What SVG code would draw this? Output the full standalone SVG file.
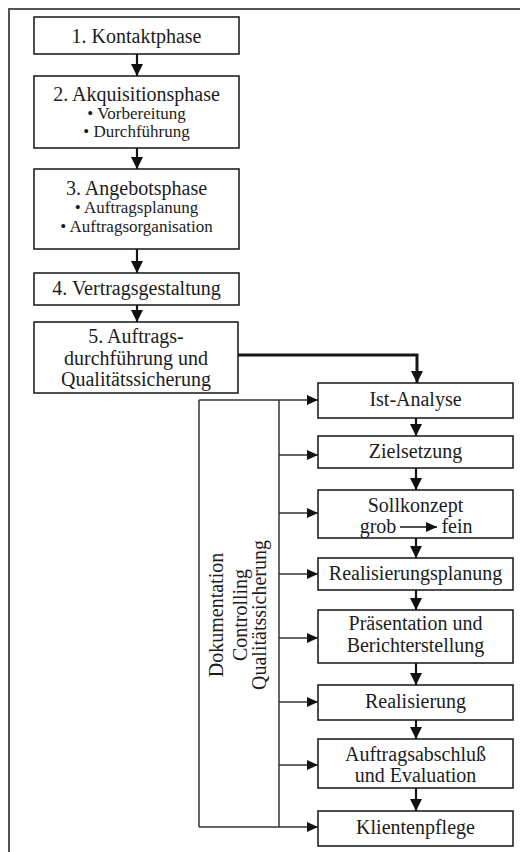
<svg xmlns="http://www.w3.org/2000/svg" width="520" height="852" viewBox="0 0 520 852">
  <defs>
    <style>
      .box { fill: #fff; stroke: #222; stroke-width: 1.6; }
      .t { font-family: 'Liberation Serif', Tinos, 'Times New Roman', Times, 'DejaVu Serif', serif; font-size: 20px; fill: #1c1c1c; text-anchor: middle; }
      .b { font-size: 17px; }
      .flow { fill: none; stroke: #151515; stroke-width: 2.2; }
      .thick { fill: none; stroke: #151515; stroke-width: 3; }
      .thin { fill: none; stroke: #333; stroke-width: 1.5; }
      .frame { fill: none; stroke: #555; stroke-width: 2; }
    </style>
    <marker id="ah" markerUnits="userSpaceOnUse" markerWidth="12" markerHeight="12" refX="12" refY="6" orient="auto">
      <path d="M0,0 L12,6 L0,12 z" fill="#111"/>
    </marker>
    <marker id="as" markerUnits="userSpaceOnUse" markerWidth="11" markerHeight="10" refX="11" refY="5" orient="auto">
      <path d="M0,0 L11,5 L0,10 z" fill="#111"/>
    </marker>
  </defs>

  <rect width="520" height="852" fill="#fff"/>
  <!-- outer frame (top and left edges) -->
  <path class="frame" d="M9,852 V9 H520"/>

  <g font-family="Liberation Serif, Times New Roman, serif">
  <!-- main phases -->
  <g id="kontaktphase">
    <rect class="box" x="34" y="17" width="205" height="37"/>
    <text class="t" x="136.5" y="43">1. Kontaktphase</text>
  </g>
  <g id="akquisitionsphase">
    <rect class="box" x="34" y="76" width="205" height="72"/>
    <text class="t" x="136.5" y="101">2. Akquisitionsphase</text>
    <text class="t b" x="136.5" y="119">• Vorbereitung</text>
    <text class="t b" x="136.5" y="137">• Durchführung</text>
  </g>
  <g id="angebotsphase">
    <rect class="box" x="34" y="169" width="205" height="80"/>
    <text class="t" x="136.5" y="195">3. Angebotsphase</text>
    <text class="t b" x="136.5" y="213">• Auftragsplanung</text>
    <text class="t b" x="136.5" y="232">• Auftragsorganisation</text>
  </g>
  <g id="vertragsgestaltung">
    <rect class="box" x="34" y="273" width="205" height="32"/>
    <text class="t" x="136.5" y="295">4. Vertragsgestaltung</text>
  </g>
  <g id="auftragsdurchfuehrung">
    <rect class="box" x="34" y="322" width="204" height="71"/>
    <text class="t" x="136" y="343">5. Auftrags-</text>
    <text class="t" x="136" y="365">durchführung und</text>
    <text class="t" x="136" y="386">Qualitätssicherung</text>
  </g>

  <!-- accompanying tasks -->
  <g id="begleitung">
    <path class="thin" d="M199,400 V827"/>
    <path class="thin" d="M279,400 V827"/>
    <text class="t" transform="translate(223,615) rotate(-90)">Dokumentation</text>
    <text class="t" transform="translate(247,615) rotate(-90)">Controlling</text>
    <text class="t" transform="translate(266,615) rotate(-90)">Qualitätssicherung</text>
  </g>

  <!-- detailed steps -->
  <g id="ist-analyse">
    <rect class="box" x="318" y="383" width="195" height="35"/>
    <text class="t" x="415.5" y="406">Ist-Analyse</text>
  </g>
  <g id="zielsetzung">
    <rect class="box" x="318" y="436" width="195" height="32"/>
    <text class="t" x="415.5" y="458">Zielsetzung</text>
  </g>
  <g id="sollkonzept">
    <rect class="box" x="318" y="490" width="195" height="48"/>
    <text class="t" x="415.5" y="512">Sollkonzept</text>
    <text class="t" x="378" y="533">grob</text>
    <text class="t" x="457" y="533">fein</text>
    <path d="M400,527 H437" stroke="#151515" stroke-width="1.6" marker-end="url(#as)"/>
  </g>
  <g id="realisierungsplanung">
    <rect class="box" x="318" y="558" width="195" height="32"/>
    <text class="t" x="415.5" y="580">Realisierungsplanung</text>
  </g>
  <g id="praesentation">
    <rect class="box" x="318" y="610" width="195" height="53"/>
    <text class="t" x="415.5" y="630">Präsentation und</text>
    <text class="t" x="415.5" y="652">Berichterstellung</text>
  </g>
  <g id="realisierung">
    <rect class="box" x="318" y="685" width="195" height="35"/>
    <text class="t" x="415.5" y="708">Realisierung</text>
  </g>
  <g id="auftragsabschluss">
    <rect class="box" x="318" y="739" width="195" height="49"/>
    <text class="t" x="415.5" y="761">Auftragsabschluß</text>
    <text class="t" x="415.5" y="782">und Evaluation</text>
  </g>
  <g id="klientenpflege">
    <rect class="box" x="318" y="811" width="195" height="35"/>
    <text class="t" x="415.5" y="834">Klientenpflege</text>
  </g>
  </g>

  <!-- connectors -->
  <g id="connectors">
    <path class="flow" d="M137,54 V76" marker-end="url(#ah)"/>
    <path class="flow" d="M137,148 V169" marker-end="url(#ah)"/>
    <path class="flow" d="M137,249 V273" marker-end="url(#ah)"/>
    <path class="flow" d="M137,305 V322" marker-end="url(#ah)"/>
    <path class="thick" d="M238,355 H417 V383" marker-end="url(#ah)"/>

    <path class="flow" d="M416,418 V436" marker-end="url(#ah)"/>
    <path class="flow" d="M416,468 V490" marker-end="url(#ah)"/>
    <path class="flow" d="M416,538 V558" marker-end="url(#ah)"/>
    <path class="flow" d="M416,590 V610" marker-end="url(#ah)"/>
    <path class="flow" d="M416,663 V685" marker-end="url(#ah)"/>
    <path class="flow" d="M416,720 V739" marker-end="url(#ah)"/>
    <path class="flow" d="M416,788 V811" marker-end="url(#ah)"/>

    <path class="thin" d="M199,400 H318" marker-end="url(#as)"/>
    <path class="thin" d="M279,455 H318" marker-end="url(#as)"/>
    <path class="thin" d="M279,513 H318" marker-end="url(#as)"/>
    <path class="thin" d="M279,574 H318" marker-end="url(#as)"/>
    <path class="thin" d="M279,638 H318" marker-end="url(#as)"/>
    <path class="thin" d="M279,702 H318" marker-end="url(#as)"/>
    <path class="thin" d="M279,765 H318" marker-end="url(#as)"/>
    <path class="thin" d="M199,827 H318" marker-end="url(#as)"/>
  </g>
</svg>
